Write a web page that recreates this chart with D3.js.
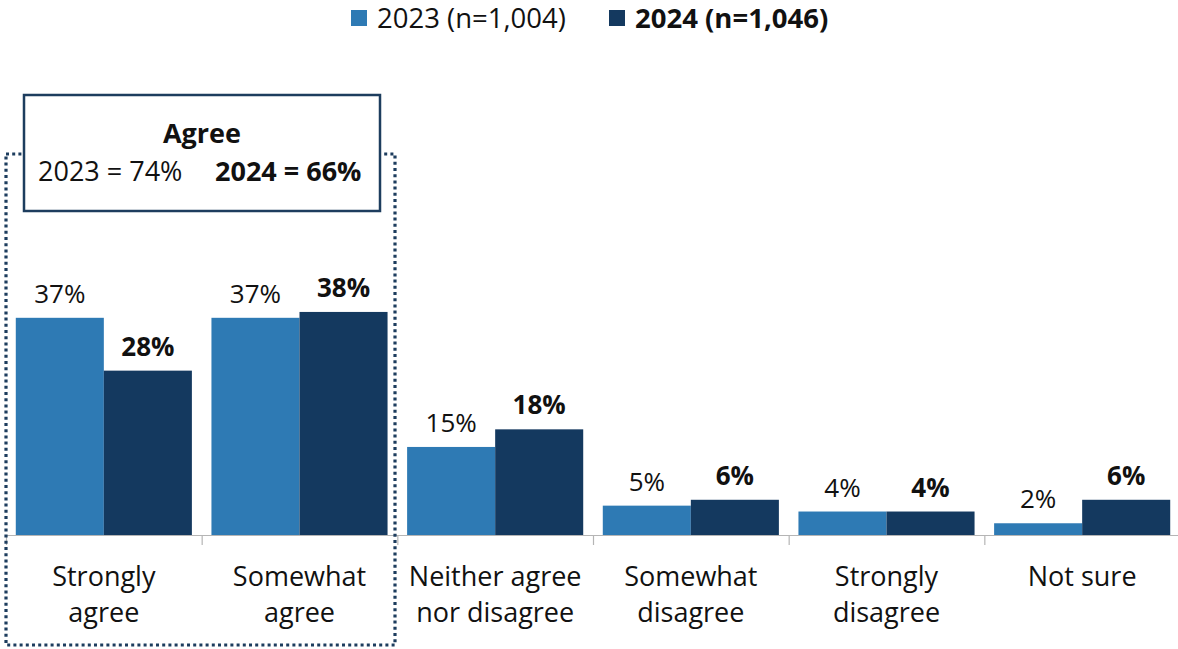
<!DOCTYPE html>
<html>
<head>
<meta charset="utf-8">
<script src="https://cdn.jsdelivr.net/npm/d3@7/dist/d3.min.js"></script>
<style>
  html, body { margin: 0; padding: 0; background: #ffffff; }
  svg { display: block; font-family: "Open Sans", Lato, "Liberation Sans", sans-serif; }
</style>
</head>
<body>
<svg id="chart" width="1178" height="649"></svg>
<script>
// Survey responses, share of respondents (%)
const categories = [
  ["Strongly", "agree"],
  ["Somewhat", "agree"],
  ["Neither agree", "nor disagree"],
  ["Somewhat", "disagree"],
  ["Strongly", "disagree"],
  ["Not sure"]
];
const seriesNames = ["2023 (n=1,004)", "2024 (n=1,046)"];
const values2023 = [37, 37, 15, 5, 4, 2];
const values2024 = [28, 38, 18, 6, 4, 6];
const agreeSummary = ["2023 = 74%", "2024 = 66%"];

const colors = ["#2e7ab4", "#14395f"];
const frameColor = "#1d3d5e";

const svg = d3.select("#chart");
const baseY = 535;

const catKeys = categories.map((c, i) => i);
const x0 = d3.scaleBand().domain(catKeys).range([6, 1180]).padding(0);
const inset = x0.bandwidth() * 0.05;
const x1 = d3.scaleBand().domain([0, 1]).range([inset, x0.bandwidth() - inset]).padding(0);
const y = d3.scaleLinear().domain([0, 40]).range([baseY, baseY - 234.8]);

const series = [values2023, values2024];

// bars
const groups = svg.append("g").selectAll("g")
  .data(catKeys).join("g")
  .attr("transform", d => `translate(${x0(d)},0)`);

groups.selectAll("rect")
  .data(d => series.map((s, si) => ({ si, v: s[d] })))
  .join("rect")
  .attr("x", d => x1(d.si))
  .attr("width", x1.bandwidth())
  .attr("y", d => y(d.v))
  .attr("height", d => y(0) - y(d.v))
  .attr("fill", d => colors[d.si]);

// value labels
groups.selectAll("text.val")
  .data(d => series.map((s, si) => ({ si, v: s[d] })))
  .join("text")
  .attr("class", "val")
  .attr("x", d => x1(d.si) + x1.bandwidth() / 2)
  .attr("y", d => y(d.v) - 15)
  .attr("text-anchor", "middle")
  .attr("font-size", 26)
  .attr("font-weight", d => d.si === 1 ? 700 : 400)
  .attr("fill", "#111")
  .text(d => d.v + "%");

// category axis: baseline and boundary ticks
const axisG = svg.append("g");
axisG.append("line")
  .attr("x1", 6).attr("x2", 1178)
  .attr("y1", baseY + 0.5).attr("y2", baseY + 0.5)
  .attr("stroke", "#b5b5b5").attr("stroke-width", 1.2);
axisG.selectAll("line.tick")
  .data(catKeys).join("line")
  .attr("class", "tick")
  .attr("x1", d => x0(d) + 0.5).attr("x2", d => x0(d) + 0.5)
  .attr("y1", baseY).attr("y2", baseY + 10)
  .attr("stroke", "#b5b5b5").attr("stroke-width", 1.2);

// category labels
const labels = axisG.selectAll("text.cat")
  .data(catKeys).join("text")
  .attr("class", "cat")
  .attr("text-anchor", "middle")
  .attr("font-size", 27)
  .attr("fill", "#111");
labels.each(function (k) {
  const t = d3.select(this);
  categories[k].forEach((line, li) => {
    t.append("tspan")
      .attr("x", x0(k) + x0.bandwidth() / 2)
      .attr("y", 586 + li * 36)
      .text(line);
  });
});

// dotted frame around the "agree" categories
svg.append("rect")
  .attr("x", 6).attr("y", 154)
  .attr("width", 389).attr("height", 491)
  .attr("fill", "none")
  .attr("stroke", frameColor)
  .attr("stroke-width", 3.2)
  .attr("stroke-dasharray", "3,3.2");

// summary box
svg.append("rect")
  .attr("x", 24).attr("y", 95)
  .attr("width", 356).attr("height", 116)
  .attr("fill", "#ffffff")
  .attr("stroke", frameColor)
  .attr("stroke-width", 2.5);
svg.append("text")
  .attr("x", 202).attr("y", 143)
  .attr("text-anchor", "middle")
  .attr("font-size", 27).attr("font-weight", 700).attr("fill", "#111")
  .text("Agree");
const sumText = svg.append("text")
  .attr("y", 181)
  .attr("font-size", 27).attr("fill", "#111");
sumText.append("tspan").attr("x", 38).text(agreeSummary[0]);
sumText.append("tspan").attr("x", 215).attr("font-weight", 700).text(agreeSummary[1]);

// legend
const legendX = [351, 609];
const legend = svg.append("g").selectAll("g")
  .data(seriesNames).join("g")
  .attr("transform", (d, i) => `translate(${legendX[i]},0)`);
legend.append("rect")
  .attr("x", 0).attr("y", 10)
  .attr("width", 16).attr("height", 16)
  .attr("fill", (d, i) => colors[i]);
legend.append("text")
  .attr("x", 26).attr("y", 28)
  .attr("font-size", 27.5)
  .attr("font-weight", (d, i) => i === 1 ? 700 : 400)
  .attr("fill", "#111")
  .text(d => d);
</script>
</body>
</html>
